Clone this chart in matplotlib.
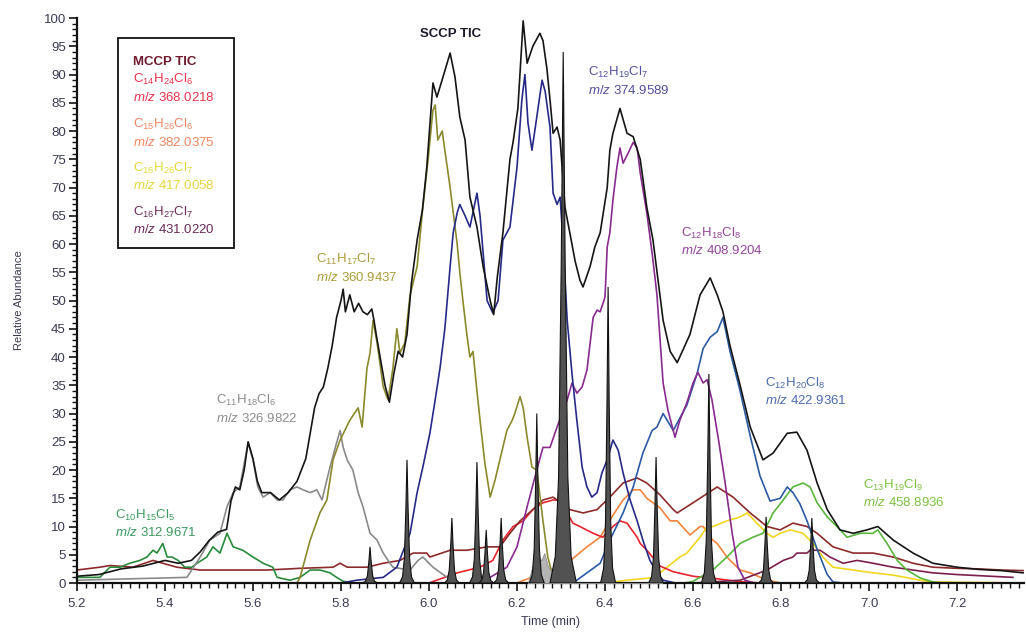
import numpy as np
import matplotlib
matplotlib.use("Agg")
import matplotlib.pyplot as plt
from matplotlib import font_manager
from matplotlib.patches import Rectangle
from matplotlib.ticker import MultipleLocator

names = {f.name for f in font_manager.fontManager.ttflist}
FAM = 'Liberation Sans Narrow' if 'Liberation Sans Narrow' in names else 'Liberation Sans'
plt.rcParams['font.family'] = [FAM, 'DejaVu Sans']
plt.rcParams['mathtext.fontset'] = 'custom'
plt.rcParams['mathtext.rm'] = FAM
plt.rcParams['mathtext.it'] = FAM + ':italic'
plt.rcParams['mathtext.bf'] = FAM + ':bold'

# ---------------- data ----------------
# SCCP TIC (black)
t_tic = [5.20, 5.25, 5.30, 5.35, 5.40, 5.43, 5.46, 5.48, 5.50, 5.52, 5.54, 5.55, 5.56, 5.57, 5.58, 5.589,
         5.60, 5.61, 5.62, 5.64, 5.66, 5.68, 5.70, 5.72, 5.74, 5.75, 5.76, 5.77, 5.78, 5.79, 5.80, 5.805,
         5.81, 5.82, 5.83, 5.84, 5.85, 5.86, 5.87, 5.875, 5.88, 5.89, 5.90, 5.91, 5.92, 5.93, 5.94, 5.95,
         5.96, 5.973, 5.985, 5.995, 6.009, 6.018, 6.032, 6.048, 6.059, 6.070, 6.082, 6.093, 6.109, 6.123,
         6.139, 6.147, 6.155, 6.168, 6.184, 6.191, 6.202, 6.214, 6.223, 6.236, 6.252, 6.259, 6.268, 6.275,
         6.282, 6.291, 6.298, 6.309, 6.320, 6.332, 6.343, 6.350, 6.366, 6.377, 6.389, 6.405, 6.411, 6.418,
         6.434, 6.450, 6.464, 6.480, 6.495, 6.509, 6.532, 6.548, 6.564, 6.593, 6.616, 6.639, 6.655, 6.668,
         6.684, 6.707, 6.730, 6.759, 6.782, 6.814, 6.836, 6.859, 6.882, 6.905, 6.934, 6.964, 6.995, 7.020,
         7.055, 7.100, 7.145, 7.20, 7.25, 7.30, 7.35]
v_tic = [1.2, 1.5, 2.5, 3.0, 4.0, 3.5, 4.0, 5.5, 7.5, 9.0, 9.5, 14.5, 17.0, 16.5, 20.0, 25.0,
         22.0, 18.0, 16.0, 16.0, 14.7, 16.0, 18.0, 22.0, 31.0, 33.5, 34.7, 38.0, 42.0, 47.0, 50.0, 52.0,
         48.0, 51.0, 48.0, 49.5, 48.0, 47.5, 48.5, 46.5, 44.0, 39.5, 35.0, 32.0, 37.0, 41.0, 40.0, 44.0,
         53.0, 60.7, 66.0, 73.6, 88.5, 86.0, 89.6, 93.8, 89.6, 82.5, 78.4, 68.3, 63.0, 56.0,
         50.0, 47.5, 54.0, 62.0, 75.0, 78.0, 84.0, 99.5, 92.0, 95.0, 97.3, 96.0, 91.0, 85.5,
         79.6, 80.7, 78.4, 66.5, 62.0, 57.0, 53.6, 52.4, 56.0, 59.5, 62.0, 70.0, 76.6, 79.6,
         84.0, 79.6, 79.0, 75.0, 66.5, 60.7, 46.5, 41.0, 39.0, 44.0, 51.0, 54.0, 51.0, 48.0,
         42.0, 35.0, 27.6, 21.8, 23.0, 26.5, 26.7, 23.5, 17.7, 13.0, 9.4, 8.8, 9.4, 10.0,
         7.6, 5.3, 3.5, 2.8, 2.4, 2.2, 1.8]

# C11H18Cl6 (grey)
t_gry = [5.20, 5.45, 5.48, 5.502, 5.525, 5.541, 5.555, 5.57, 5.589, 5.60, 5.611, 5.623, 5.639, 5.655,
         5.668, 5.684, 5.70, 5.714, 5.73, 5.745, 5.757, 5.764, 5.775, 5.79, 5.798, 5.805, 5.814, 5.827,
         5.839, 5.85, 5.866, 5.882, 5.896, 5.907, 5.918, 5.94, 5.957, 5.975, 5.986, 6.0, 6.009, 6.041, 6.06]
v_gry = [0.5, 1.0, 4.6, 7.6, 8.8, 13.5, 16.0, 17.0, 24.8, 21.8, 17.0, 15.2, 16.0, 14.7,
         14.7, 16.5, 17.0, 16.5, 16.0, 16.5, 14.7, 17.0, 20.5, 24.8, 27.0, 24.0, 21.8, 20.0,
         16.0, 13.5, 8.8, 7.6, 5.3, 4.0, 2.8, 2.5, 2.3, 4.0, 4.6, 3.5, 2.8, 1.0, 0.0]

# C10H15Cl5 (green)
t_grn = [5.20, 5.252, 5.275, 5.298, 5.32, 5.343, 5.359, 5.373, 5.382, 5.395, 5.405, 5.416, 5.43, 5.445,
         5.461, 5.473, 5.495, 5.509, 5.525, 5.541, 5.548, 5.555, 5.577, 5.60, 5.623, 5.645, 5.655, 5.684,
         5.707, 5.73, 5.752, 5.775, 5.79, 5.805, 5.83]
v_grn = [1.0, 1.0, 2.8, 2.8, 3.5, 4.0, 4.6, 5.8, 5.3, 7.0, 4.6, 4.6, 4.0, 2.8,
         2.8, 3.5, 4.6, 6.4, 5.3, 8.8, 7.6, 6.4, 5.8, 4.6, 3.5, 2.8, 1.0, 0.5,
         1.0, 2.3, 2.3, 1.8, 1.0, 0.3, 0.0]

# C11H17Cl7 (olive)
t_olv = [5.70, 5.707, 5.73, 5.752, 5.768, 5.782, 5.798, 5.82, 5.839, 5.848, 5.859, 5.866, 5.873, 5.882,
         5.896, 5.907, 5.918, 5.927, 5.934, 5.945, 5.957, 5.973, 5.986, 5.998, 6.009, 6.014, 6.02, 6.03,
         6.036, 6.048, 6.064, 6.07, 6.077, 6.086, 6.093, 6.1, 6.109, 6.116, 6.127, 6.139, 6.15, 6.161,
         6.177, 6.189, 6.195, 6.207, 6.214, 6.223, 6.234, 6.245, 6.259, 6.27, 6.282, 6.30]
v_olv = [0.0, 1.0, 7.6, 12.4, 14.7, 21.8, 25.3, 28.8, 31.0, 27.6, 38.0, 40.7, 46.5, 42.5,
         34.7, 32.4, 38.0, 45.0, 40.7, 42.5, 51.0, 56.0, 66.5, 75.0, 83.7, 84.6, 78.4, 80.0,
         76.6, 70.0, 60.0, 55.0, 50.0, 44.0, 40.0, 41.0, 34.0, 28.8, 21.2, 15.2, 18.2, 21.8,
         27.0, 28.8, 30.0, 33.0, 31.0, 25.8, 20.5, 20.0, 11.0, 4.6, 1.0, 0.0]

# C12H19Cl7 (navy)
t_nav = [5.80, 5.836, 5.896, 5.927, 5.957, 5.973, 5.986, 6.002, 6.014, 6.025, 6.036, 6.048, 6.055, 6.064,
         6.070, 6.082, 6.093, 6.109, 6.116, 6.132, 6.145, 6.157, 6.168, 6.184, 6.200, 6.211, 6.218, 6.225,
         6.234, 6.245, 6.257, 6.264, 6.275, 6.282, 6.291, 6.298, 6.305, 6.314, 6.325, 6.336, 6.348, 6.359,
         6.370, 6.382, 6.393, 6.405, 6.418, 6.430, 6.441, 6.457, 6.473, 6.486, 6.502, 6.518, 6.532, 6.56]
v_nav = [0.0, 0.5, 1.0, 2.8, 8.8, 16.0, 20.5, 26.5, 32.4, 38.0, 45.0, 56.0, 62.0, 65.5,
         67.0, 65.0, 63.0, 69.0, 65.0, 50.0, 47.8, 50.0, 60.7, 63.0, 73.6, 85.5, 90.0, 81.4,
         76.6, 82.5, 89.0, 87.0, 80.7, 69.0, 67.0, 68.3, 60.0, 46.5, 37.0, 28.8, 20.5, 17.0,
         15.2, 16.0, 19.5, 21.8, 25.3, 23.5, 19.5, 14.7, 11.0, 7.6, 4.0, 1.8, 0.5, 0.0]

# C12H18Cl8 (purple)
t_pur = [6.10, 6.139, 6.177, 6.20, 6.223, 6.245, 6.259, 6.275, 6.291, 6.314, 6.325, 6.336, 6.348, 6.359,
         6.373, 6.382, 6.389, 6.40, 6.405, 6.411, 6.418, 6.427, 6.434, 6.441, 6.452, 6.464, 6.473, 6.48,
         6.495, 6.507, 6.518, 6.532, 6.543, 6.559, 6.57, 6.586, 6.60, 6.611, 6.623, 6.632, 6.643, 6.657,
         6.673, 6.689, 6.702, 6.718, 6.74]
v_pur = [0.0, 1.0, 2.8, 6.4, 13.5, 20.0, 24.0, 24.0, 27.6, 32.4, 35.4, 33.6, 34.7, 37.7,
         47.0, 48.3, 48.0, 50.6, 59.5, 62.0, 67.8, 73.6, 77.0, 74.3, 76.0, 78.0, 77.0, 72.6,
         65.5, 58.4, 51.0, 35.4, 30.6, 25.8, 28.8, 31.9, 35.4, 37.3, 35.4, 36.0, 32.4, 25.8,
         17.7, 8.8, 2.8, 0.5, 0.0]

# C12H20Cl8 (blue)
t_blu = [6.30, 6.336, 6.389, 6.411, 6.441, 6.464, 6.486, 6.507, 6.518, 6.532, 6.555, 6.586, 6.609, 6.623,
         6.639, 6.655, 6.668, 6.684, 6.707, 6.73, 6.752, 6.775, 6.798, 6.814, 6.827, 6.843, 6.859, 6.882,
         6.905, 6.918, 6.94]
v_blu = [0.0, 0.5, 3.5, 7.6, 12.4, 17.0, 23.0, 27.0, 27.6, 30.0, 27.0, 31.5, 37.0, 41.5,
         43.5, 44.5, 47.0, 41.0, 34.0, 26.0, 19.0, 14.5, 15.0, 17.0, 16.0, 14.0, 11.0, 6.0,
         1.5, 0.2, 0.0]

# C13H19Cl9 (light green)
t_lgr = [6.58, 6.60, 6.645, 6.677, 6.707, 6.736, 6.759, 6.782, 6.805, 6.827, 6.85, 6.866, 6.882, 6.905,
         6.927, 6.95, 6.98, 7.009, 7.02, 7.041, 7.064, 7.086, 7.116, 7.145, 7.17]
v_lgr = [0.0, 0.3, 2.3, 4.6, 7.0, 8.1, 8.8, 12.4, 14.7, 17.0, 17.7, 17.0, 14.2, 11.7,
         10.0, 8.1, 8.8, 8.8, 9.4, 7.0, 4.0, 2.3, 0.9, 0.2, 0.0]

# MCCP: C14H24Cl6 (red)
t_red = [5.20, 6.00, 6.064, 6.116, 6.145, 6.161, 6.168, 6.191, 6.214, 6.236, 6.259, 6.282, 6.291, 6.314,
         6.327, 6.343, 6.373, 6.395, 6.418, 6.434, 6.45, 6.473, 6.48, 6.495, 6.525, 6.555, 6.60, 6.65,
         6.70, 6.75, 7.35]
v_red = [0.0, 0.0, 1.8, 2.8, 4.0, 6.5, 7.6, 10.0, 11.0, 13.0, 14.2, 14.7, 14.7, 12.4,
         10.6, 10.0, 8.8, 8.1, 10.0, 11.0, 10.6, 8.1, 7.0, 5.8, 3.0, 2.0, 1.2, 0.8,
         0.3, 0.0, 0.0]

# MCCP: C15H26Cl6 (orange)
t_org = [5.20, 6.20, 6.259, 6.314, 6.359, 6.389, 6.418, 6.441, 6.464, 6.48, 6.495, 6.525, 6.548, 6.564,
         6.593, 6.616, 6.623, 6.645, 6.655, 6.677, 6.691, 6.707, 6.73, 6.768, 6.80, 7.35]
v_org = [0.0, 0.0, 1.8, 3.5, 6.4, 8.1, 12.0, 14.7, 16.5, 16.5, 15.0, 13.3, 11.0, 11.0,
         8.5, 10.0, 10.0, 7.6, 7.0, 4.6, 3.5, 2.3, 1.8, 0.5, 0.0, 0.0]

# MCCP: C16H26Cl7 (yellow)
t_yel = [5.20, 6.40, 6.45, 6.518, 6.525, 6.57, 6.586, 6.616, 6.632, 6.645, 6.677, 6.707, 6.723, 6.745,
         6.768, 6.782, 6.798, 6.82, 6.85, 6.873, 6.895, 6.918, 6.964, 7.009, 7.055, 7.116, 7.145, 7.35]
v_yel = [0.0, 0.0, 0.5, 1.0, 1.8, 4.6, 5.3, 8.1, 10.0, 10.0, 11.0, 11.7, 12.4, 10.6,
         8.8, 8.1, 8.8, 9.4, 8.8, 7.0, 4.6, 2.8, 2.3, 1.8, 1.4, 0.5, 0.2, 0.0]

# MCCP: C16H27Cl7 (wine)
t_win = [6.60, 6.707, 6.768, 6.805, 6.827, 6.836, 6.859, 6.866, 6.889, 6.911, 6.941, 6.973, 7.009, 7.055,
         7.10, 7.145, 7.20, 7.25, 7.327]
v_win = [0.0, 0.5, 2.3, 4.0, 4.6, 5.3, 5.3, 5.8, 5.8, 4.6, 3.5, 4.0, 3.5, 2.8,
         2.3, 1.8, 1.5, 1.3, 1.0]

# MCCP TIC (maroon)
t_mcc = [5.20, 5.252, 5.275, 5.327, 5.373, 5.395, 5.427, 5.48, 5.555, 5.632, 5.707, 5.782, 5.798, 5.814,
         5.859, 5.896, 5.934, 5.964, 5.995, 6.002, 6.048, 6.086, 6.132, 6.161, 6.184, 6.207, 6.236, 6.259,
         6.282, 6.32, 6.35, 6.382, 6.411, 6.441, 6.473, 6.495, 6.525, 6.555, 6.564, 6.60, 6.655, 6.691,
         6.73, 6.768, 6.798, 6.827, 6.859, 6.882, 6.918, 6.964, 7.009, 7.055, 7.10, 7.145, 7.20, 7.25,
         7.30, 7.35]
v_mcc = [2.3, 2.8, 3.1, 2.8, 4.0, 3.5, 2.8, 2.3, 2.3, 2.3, 2.6, 2.8, 3.5, 2.8,
         2.8, 3.5, 4.0, 5.3, 5.3, 4.6, 5.8, 5.8, 6.4, 6.4, 8.8, 11.0, 13.0, 14.7,
         15.2, 13.0, 12.4, 13.0, 15.2, 17.7, 18.6, 17.7, 15.6, 13.0, 12.4, 14.2, 17.0, 15.2,
         12.4, 10.0, 9.4, 10.6, 10.0, 8.8, 6.4, 5.3, 5.3, 4.6, 3.5, 2.8, 2.6, 2.5,
         2.3, 2.2]

# Sharp peaks (filled dark grey)
spike_t = [5.866, 5.95, 6.052, 6.109, 6.13, 6.164, 6.245, 6.305, 6.407, 6.516, 6.636, 6.766, 6.870]
spike_h = [6.4, 21.8, 11.5, 21.4, 9.4, 11.5, 30.0, 94.0, 52.4, 22.3, 37.0, 11.7, 11.5]

# Light grey filled shoulders
t_lgf = [6.225, 6.235, 6.245, 6.255, 6.262, 6.27, 6.285, 6.295, 6.50, 6.512, 6.52, 6.53]
v_lgf = [0.0, 3.0, 5.0, 4.0, 5.3, 3.0, 1.5, 0.0, 0.0, 2.5, 2.0, 0.0]

# ---------------- figure ----------------
fig = plt.figure(figsize=(10.26, 6.32), dpi=100)
ax = fig.add_axes([0.075, 0.0775, 0.923, 0.894])

lw = 1.2
series = [
    (t_org, v_org, '#f2843e'),
    (t_yel, v_yel, '#f2d61e'),
    (t_red, v_red, '#e8232e'),
    (t_win, v_win, '#7a1f4c'),
    (t_mcc, v_mcc, '#8c2a2a'),
    (t_grn, v_grn, '#2a8a3c'),
    (t_gry, v_gry, '#8a8a8a'),
    (t_olv, v_olv, '#8a8a2c'),
    (t_lgr, v_lgr, '#58b63c'),
    (t_blu, v_blu, '#2c5aa2'),
    (t_pur, v_pur, '#882a8e'),
    (t_nav, v_nav, '#262a86'),
]
for t, v, c in series:
    ax.plot(t, v, color=c, lw=lw, solid_joinstyle='round')

ax.fill_between(t_lgf, v_lgf, 0, facecolor='#b4b4b4', edgecolor='#8a8a8a', lw=0.6, zorder=3)

ax.plot(t_tic, v_tic, color='#151515', lw=lw, zorder=4)

prof_x = np.array([-1, -0.6, -0.35, -0.15, 0, 0.15, 0.35, 0.6, 1])
prof_y = np.array([0, 0.05, 0.2, 0.6, 1, 0.6, 0.2, 0.05, 0])
for c, h in zip(spike_t, spike_h):
    w = 0.03 if h > 80 else 0.017
    ax.fill(c + prof_x * w, h * prof_y, facecolor='#525252', edgecolor='#111111', lw=0.8, zorder=5)

ax.set_xlim(5.2, 7.352)
ax.set_ylim(0, 100)

for s in ['top', 'right']:
    ax.spines[s].set_visible(False)
for s in ['left', 'bottom']:
    ax.spines[s].set_linewidth(1.6)
    ax.spines[s].set_color('#111111')

ax.xaxis.set_major_locator(MultipleLocator(0.2))
ax.xaxis.set_minor_locator(MultipleLocator(0.02))
ax.yaxis.set_major_locator(MultipleLocator(5))
ax.yaxis.set_minor_locator(MultipleLocator(1))
ax.set_xticks(np.round(np.arange(5.2, 7.3, 0.2), 1))
ax.set_xticklabels([f'{x:.1f}' for x in np.arange(5.2, 7.3, 0.2)])
tick_col = '#3a3a52'
ax.tick_params(axis='both', which='major', direction='out', length=6, width=1.2, colors='#111111',
               labelcolor=tick_col, labelsize=9.5)
ax.tick_params(axis='both', which='minor', direction='out', length=3.5, width=1.0, colors='#111111')
ax.tick_params(axis='x', which='major', pad=5)
ax.tick_params(axis='y', which='major', pad=2)

ax.set_xlabel('Time (min)', fontsize=9, color=tick_col, labelpad=4)
ax.set_ylabel('Relative Abundance', fontsize=8, color=tick_col, labelpad=14)

# legend box (MCCP)
ax.add_patch(Rectangle((0.0433, 0.593), 0.1225, 0.3716, transform=ax.transAxes,
                       fill=False, edgecolor='#111111', lw=1.3, zorder=6))
lx = 5.327
fs = 9.5
ax.text(lx, 92.2, 'MCCP TIC', color='#6e1a2a', fontsize=fs, fontweight='bold', va='center', zorder=7)
leg = [
    (r'C$_{14}$H$_{24}$Cl$_{6}$', r'$\it{m/z}$ 368.0218', '#e8344e', 89.2, 85.9),
    (r'C$_{15}$H$_{26}$Cl$_{6}$', r'$\it{m/z}$ 382.0375', '#f08660', 81.2, 78.0),
    (r'C$_{16}$H$_{26}$Cl$_{7}$', r'$\it{m/z}$ 417.0058', '#e6d63c', 73.4, 70.3),
    (r'C$_{16}$H$_{27}$Cl$_{7}$', r'$\it{m/z}$ 431.0220', '#6a2a5a', 65.6, 62.6),
]
for f, m, c, y1, y2 in leg:
    ax.text(lx, y1, f, color=c, fontsize=fs, va='center', zorder=7)
    ax.text(lx, y2, m, color=c, fontsize=fs, va='center', zorder=7)

ax.text(5.98, 97.2, 'SCCP TIC', color='#1a1a2a', fontsize=fs, fontweight='bold', va='center')

ann = [
    (r'C$_{12}$H$_{19}$Cl$_{7}$', r'$\it{m/z}$ 374.9589', '#54509e', 6.361, 90.4, 87.2),
    (r'C$_{11}$H$_{17}$Cl$_{7}$', r'$\it{m/z}$ 360.9437', '#aa9c3a', 5.743, 57.2, 54.1),
    (r'C$_{12}$H$_{18}$Cl$_{8}$', r'$\it{m/z}$ 408.9204', '#94449a', 6.573, 61.9, 58.8),
    (r'C$_{11}$H$_{18}$Cl$_{6}$', r'$\it{m/z}$ 326.9822', '#8c8c8c', 5.516, 32.4, 29.2),
    (r'C$_{12}$H$_{20}$Cl$_{8}$', r'$\it{m/z}$ 422.9361', '#4c6cb0', 6.764, 35.4, 32.3),
    (r'C$_{10}$H$_{15}$Cl$_{5}$', r'$\it{m/z}$ 312.9671', '#3a9a5e', 5.286, 12.0, 8.9),
    (r'C$_{13}$H$_{19}$Cl$_{9}$', r'$\it{m/z}$ 458.8936', '#7cc040', 6.986, 17.3, 14.2),
]
for f, m, c, x, y1, y2 in ann:
    ax.text(x, y1, f, color=c, fontsize=fs, va='center', zorder=7)
    ax.text(x, y2, m, color=c, fontsize=fs, va='center', zorder=7)

fig.savefig('out.png', dpi=100)
